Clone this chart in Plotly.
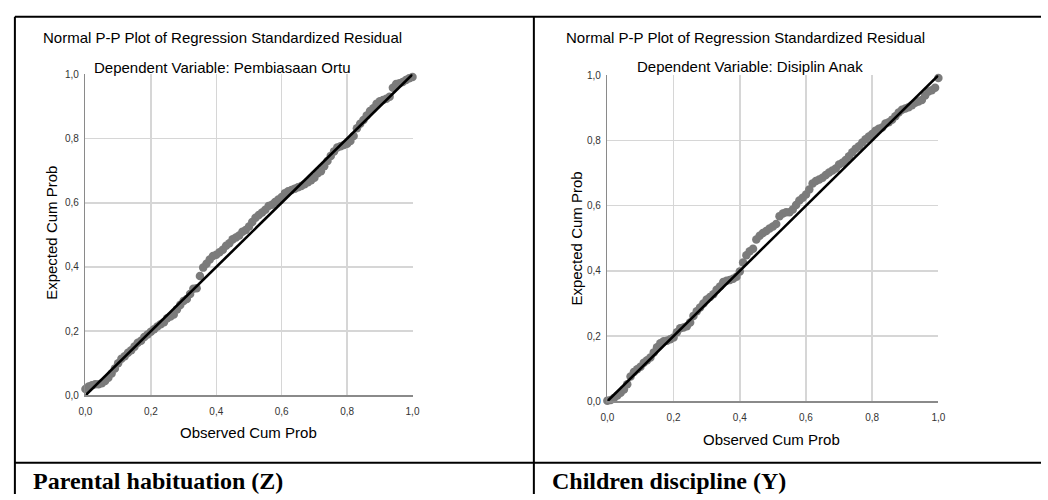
import plotly.graph_objects as go

W, H = 1048, 500

# ---------------- data ----------------
tick_vals = [0.0, 0.2, 0.4, 0.6, 0.8, 1.0]
tick_text = ["0,0", "0,2", "0,4", "0,6", "0,8", "1,0"]

# Left panel: Dependent Variable: Pembiasaan Ortu
obs_ortu = [0.00, 0.01, 0.02, 0.03, 0.04, 0.05, 0.06, 0.07, 0.08, 0.09,
            0.10, 0.11, 0.12, 0.13, 0.14, 0.15, 0.16, 0.17, 0.18, 0.19,
            0.20, 0.21, 0.22, 0.23, 0.24, 0.25, 0.26, 0.27, 0.28, 0.29,
            0.30, 0.31, 0.32, 0.33, 0.34, 0.35, 0.36, 0.37, 0.38, 0.39,
            0.40, 0.41, 0.42, 0.43, 0.44, 0.45, 0.46, 0.47, 0.48, 0.49,
            0.50, 0.51, 0.52, 0.53, 0.54, 0.55, 0.56, 0.57, 0.58, 0.59,
            0.60, 0.61, 0.62, 0.63, 0.64, 0.65, 0.66, 0.67, 0.68, 0.69,
            0.70, 0.71, 0.72, 0.73, 0.74, 0.75, 0.76, 0.77, 0.78, 0.79,
            0.80, 0.81, 0.82, 0.83, 0.84, 0.85, 0.86, 0.87, 0.88, 0.89,
            0.90, 0.91, 0.92, 0.93, 0.94, 0.95, 0.96, 0.97, 0.98, 0.99, 1.00]
exp_ortu = [0.020, 0.028, 0.032, 0.035, 0.035, 0.038, 0.045, 0.055, 0.068, 0.084,
            0.100, 0.114, 0.122, 0.133, 0.141, 0.152, 0.164, 0.170, 0.182, 0.190,
            0.198, 0.206, 0.215, 0.222, 0.228, 0.240, 0.246, 0.252, 0.268, 0.282,
            0.294, 0.300, 0.316, 0.332, 0.334, 0.372, 0.398, 0.410, 0.423, 0.434,
            0.438, 0.446, 0.454, 0.466, 0.474, 0.486, 0.492, 0.498, 0.510, 0.515,
            0.526, 0.540, 0.553, 0.562, 0.570, 0.578, 0.590, 0.594, 0.602, 0.610,
            0.618, 0.630, 0.636, 0.640, 0.644, 0.648, 0.652, 0.658, 0.664, 0.670,
            0.678, 0.692, 0.698, 0.714, 0.730, 0.746, 0.760, 0.772, 0.776, 0.780,
            0.784, 0.792, 0.808, 0.832, 0.846, 0.858, 0.872, 0.886, 0.894, 0.908,
            0.916, 0.920, 0.924, 0.930, 0.958, 0.970, 0.972, 0.976, 0.982, 0.988, 0.992]

# Right panel: Dependent Variable: Disiplin Anak
obs_anak = [0.00, 0.01, 0.02, 0.03, 0.04, 0.05, 0.06, 0.07, 0.08, 0.09,
            0.10, 0.11, 0.12, 0.13, 0.14, 0.15, 0.16, 0.17, 0.18, 0.19,
            0.20, 0.21, 0.22, 0.23, 0.24, 0.25, 0.26, 0.27, 0.28, 0.29,
            0.30, 0.31, 0.32, 0.33, 0.34, 0.35, 0.36, 0.37, 0.38, 0.39,
            0.40, 0.41, 0.42, 0.43, 0.44, 0.45, 0.46, 0.47, 0.48, 0.49,
            0.50, 0.51, 0.52, 0.53, 0.54, 0.55, 0.56, 0.57, 0.58, 0.59,
            0.60, 0.61, 0.62, 0.63, 0.64, 0.65, 0.66, 0.67, 0.68, 0.69,
            0.70, 0.71, 0.72, 0.73, 0.74, 0.75, 0.76, 0.77, 0.78, 0.79,
            0.80, 0.81, 0.82, 0.83, 0.84, 0.85, 0.86, 0.87, 0.88, 0.89,
            0.90, 0.91, 0.92, 0.93, 0.94, 0.95, 0.96, 0.97, 0.98, 0.99, 1.00]
exp_anak = [0.002, 0.004, 0.010, 0.018, 0.026, 0.036, 0.052, 0.076, 0.090, 0.098,
            0.106, 0.118, 0.126, 0.134, 0.150, 0.166, 0.178, 0.184, 0.186, 0.190,
            0.196, 0.212, 0.224, 0.226, 0.230, 0.242, 0.262, 0.276, 0.288, 0.300,
            0.312, 0.320, 0.328, 0.342, 0.352, 0.366, 0.370, 0.372, 0.376, 0.382,
            0.398, 0.426, 0.448, 0.460, 0.468, 0.496, 0.508, 0.516, 0.522, 0.530,
            0.536, 0.544, 0.568, 0.576, 0.580, 0.580, 0.588, 0.602, 0.616, 0.624,
            0.634, 0.650, 0.668, 0.676, 0.680, 0.686, 0.694, 0.702, 0.708, 0.714,
            0.726, 0.732, 0.740, 0.752, 0.764, 0.775, 0.782, 0.794, 0.804, 0.812,
            0.820, 0.830, 0.836, 0.840, 0.852, 0.856, 0.864, 0.874, 0.886, 0.894,
            0.898, 0.902, 0.908, 0.916, 0.920, 0.924, 0.938, 0.950, 0.954, 0.962, 0.992]

ref_line = [0.0, 1.0]

main_title = "Normal P-P Plot of Regression Standardized Residual"
sub_left = "Dependent Variable: Pembiasaan Ortu"
sub_right = "Dependent Variable: Disiplin Anak"
x_title = "Observed Cum Prob"
y_title = "Expected Cum Prob"
label_left = "Parental habituation (Z)"
label_right = "Children discipline (Y)"

# ---------------- helpers ----------------
def px(x):
    return x / W

def py(y):
    return 1 - y / H

SANS = "Liberation Sans, Arial, sans-serif"
SERIF = "Liberation Serif, Times New Roman, serif"
PT_COLOR = "#7b7b7b"

fig = go.Figure()

for obs, exp, xa, ya in [(obs_ortu, exp_ortu, "x", "y"), (obs_anak, exp_anak, "x2", "y2")]:
    fig.add_trace(go.Scatter(x=obs, y=exp, mode="markers", xaxis=xa, yaxis=ya,
                             marker=dict(size=8.5, color=PT_COLOR, line=dict(width=0)),
                             cliponaxis=False, showlegend=False, hoverinfo="x+y"))
    fig.add_trace(go.Scatter(x=ref_line, y=ref_line, mode="lines", xaxis=xa, yaxis=ya,
                             line=dict(color="black", width=2.6),
                             cliponaxis=False, showlegend=False, hoverinfo="skip"))

axis_common = dict(range=[0, 1], tickvals=tick_vals, ticktext=tick_text,
                   showgrid=True, gridcolor="#d6d6d6", gridwidth=1.5,
                   showline=True, linecolor="#8a8a8a", linewidth=1.5,
                   zeroline=False, ticks="", fixedrange=True,
                   tickfont=dict(family=SANS, size=10, color="#333333"))

fig.update_layout(
    width=W, height=H, autosize=False,
    margin=dict(l=0, r=0, t=0, b=0),
    paper_bgcolor="white", plot_bgcolor="white",
    xaxis=dict(domain=[px(79.5), px(411)], anchor="y", ticklabelstandoff=6, **axis_common),
    yaxis=dict(domain=[py(399), py(70)], anchor="x", ticklabelstandoff=3, **axis_common),
    xaxis2=dict(domain=[px(608.5), px(944)], anchor="y2", ticklabelstandoff=6, **axis_common),
    yaxis2=dict(domain=[py(405), py(71)], anchor="x2", ticklabelstandoff=3, **axis_common),
)

ann = []
def text(t, x, y, size=15, family=SANS, xanchor="center", angle=0, color="black"):
    ann.append(dict(text=t, x=px(x), y=py(y), xref="paper", yref="paper",
                    xanchor=xanchor, yanchor="middle", showarrow=False, textangle=angle,
                    font=dict(family=family, size=size, color=color)))

text(main_title, 218, 32)
text(sub_left, 218, 63)
text(main_title, 749, 32)
text(sub_right, 753, 62)
text(x_title, 245, 437)
text(x_title, 775, 444)
text(y_title, 45, 232, angle=-90)
text(y_title, 577, 238, angle=-90)
text("<b>" + label_left + "</b>", 24, 487, size=24, family=SERIF, xanchor="left")
text("<b>" + label_right + "</b>", 550, 487, size=24, family=SERIF, xanchor="left")
fig.update_layout(annotations=ann)

shapes = []
def line(x0, y0, x1, y1, w=2):
    shapes.append(dict(type="line", xref="paper", yref="paper",
                       x0=px(x0), y0=py(y0), x1=px(x1), y1=py(y1),
                       line=dict(color="black", width=w)))

line(8, 11, 1048, 11)
line(8, 11, 8, 500)
line(534, 11, 534, 500)
line(8, 468, 1048, 468)
fig.update_layout(shapes=shapes)

fig.write_html("out.html",
               config={"displayModeBar": False, "staticPlot": True},
               post_script="document.body.style.margin='0';document.body.style.overflow='hidden';")
